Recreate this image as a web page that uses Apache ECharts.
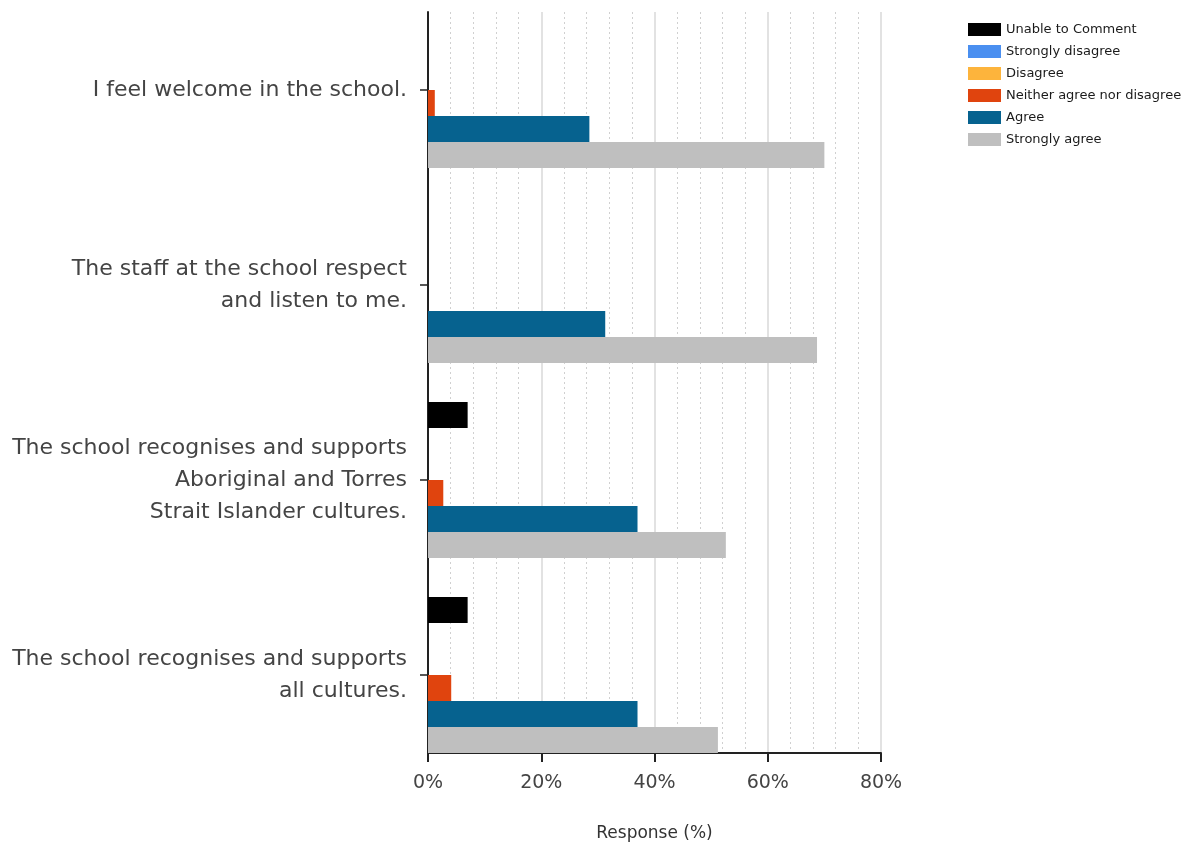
<!DOCTYPE html>
<html>
<head>
<meta charset="utf-8">
<script src="https://cdn.jsdelivr.net/npm/echarts@6/dist/echarts.min.js"></script>
<style>html,body{margin:0;padding:0;background:#fff}#c{width:1191px;height:845px}</style>
</head>
<body>
<div id="c"></div>
<script>
const categories = [
  "I feel welcome in the school.",
  "The staff at the school respect\nand listen to me.",
  "The school recognises and supports\nAboriginal and Torres\nStrait Islander cultures.",
  "The school recognises and supports\nall cultures."
];
const seriesNames = ["Unable to Comment","Strongly disagree","Disagree","Neither agree nor disagree","Agree","Strongly agree"];
const unableToComment = [0, 0, 7.0, 7.0];
const stronglyDisagree = [0, 0, 0, 0];
const disagree = [0, 0, 0, 0];
const neither = [1.2, 0, 2.7, 4.1];
const agree = [28.5, 31.3, 37.0, 37.0];
const stronglyAgree = [70.0, 68.7, 52.6, 51.2];
const tickValues = [0, 20, 40, 60, 80];

const colors = ["#000000","#4a8ff0","#fdb43c","#e0440e","#06628f","#bfbfbf"];
const values = [unableToComment, stronglyDisagree, disagree, neither, agree, stronglyAgree];
const font = "'DejaVu Sans', sans-serif";

const chart = echarts.init(document.getElementById('c'), null, {renderer:'canvas'});
chart.setOption({
  animation: false,
  backgroundColor: '#fff',
  legend: {
    orient: 'vertical', left: 963, top: 18,
    itemWidth: 33, itemHeight: 13, itemGap: 9,
    icon: 'rect',
    textStyle: {fontFamily: font, fontSize: 13, color: '#1a1a1a'},
    data: seriesNames
  },
  grid: [
    {left: 428, top: -7.5, width: 453, height: 780, containLabel: false, outerBoundsMode: 'none'},
    {left: 428, top: 12, width: 453, height: 741, containLabel: false, outerBoundsMode: 'none'}
  ],
  xAxis: [
    {gridIndex: 0, type: 'value', min: tickValues[0], max: tickValues[tickValues.length-1], show: false},
    {gridIndex: 1, type: 'value', min: tickValues[0], max: tickValues[tickValues.length-1], interval: 20,
     axisLine: {show: true, lineStyle: {color: '#222', width: 2}},
     axisTick: {show: true, length: 9, lineStyle: {color: '#222', width: 2}},
     axisLabel: {formatter: '{value}%', fontFamily: font, fontSize: 19, color: '#444', margin: 21},
     splitLine: {show: true, lineStyle: {color: '#d9d9d9', width: 1.5}},
     minorTick: {show: true, splitNumber: 5, length: 0},
     minorSplitLine: {show: true, lineStyle: {color: '#d0d0d0', type: [2, 3], width: 1}},
     name: 'Response (%)', nameLocation: 'middle', nameGap: 72,
     nameTextStyle: {fontFamily: font, fontSize: 17, color: '#333'}
    }
  ],
  yAxis: [
    {gridIndex: 0, type: 'category', data: categories, inverse: true,
     axisLine: {show: false},
     axisTick: {show: true, alignWithLabel: true, length: 8, lineStyle: {color: '#222', width: 1.5}},
     axisLabel: {fontFamily: font, fontSize: 22, color: '#444', margin: 21, lineHeight: 32, align: 'right', padding: [3, 0, 0, 0]},
     splitLine: {show: false}
    },
    {gridIndex: 1, type: 'value', min: 0, max: 1,
     axisLine: {show: true, onZero: false, lineStyle: {color: '#222', width: 2}},
     axisTick: {show: false}, axisLabel: {show: false}, splitLine: {show: false}
    }
  ],
  series: seriesNames.map((name, i) => ({
    name: name, type: 'bar', xAxisIndex: 0, yAxisIndex: 0,
    data: values[i], barWidth: 26, barGap: '0%',
    itemStyle: {color: colors[i]}
  }))
});
</script>
</body>
</html>
